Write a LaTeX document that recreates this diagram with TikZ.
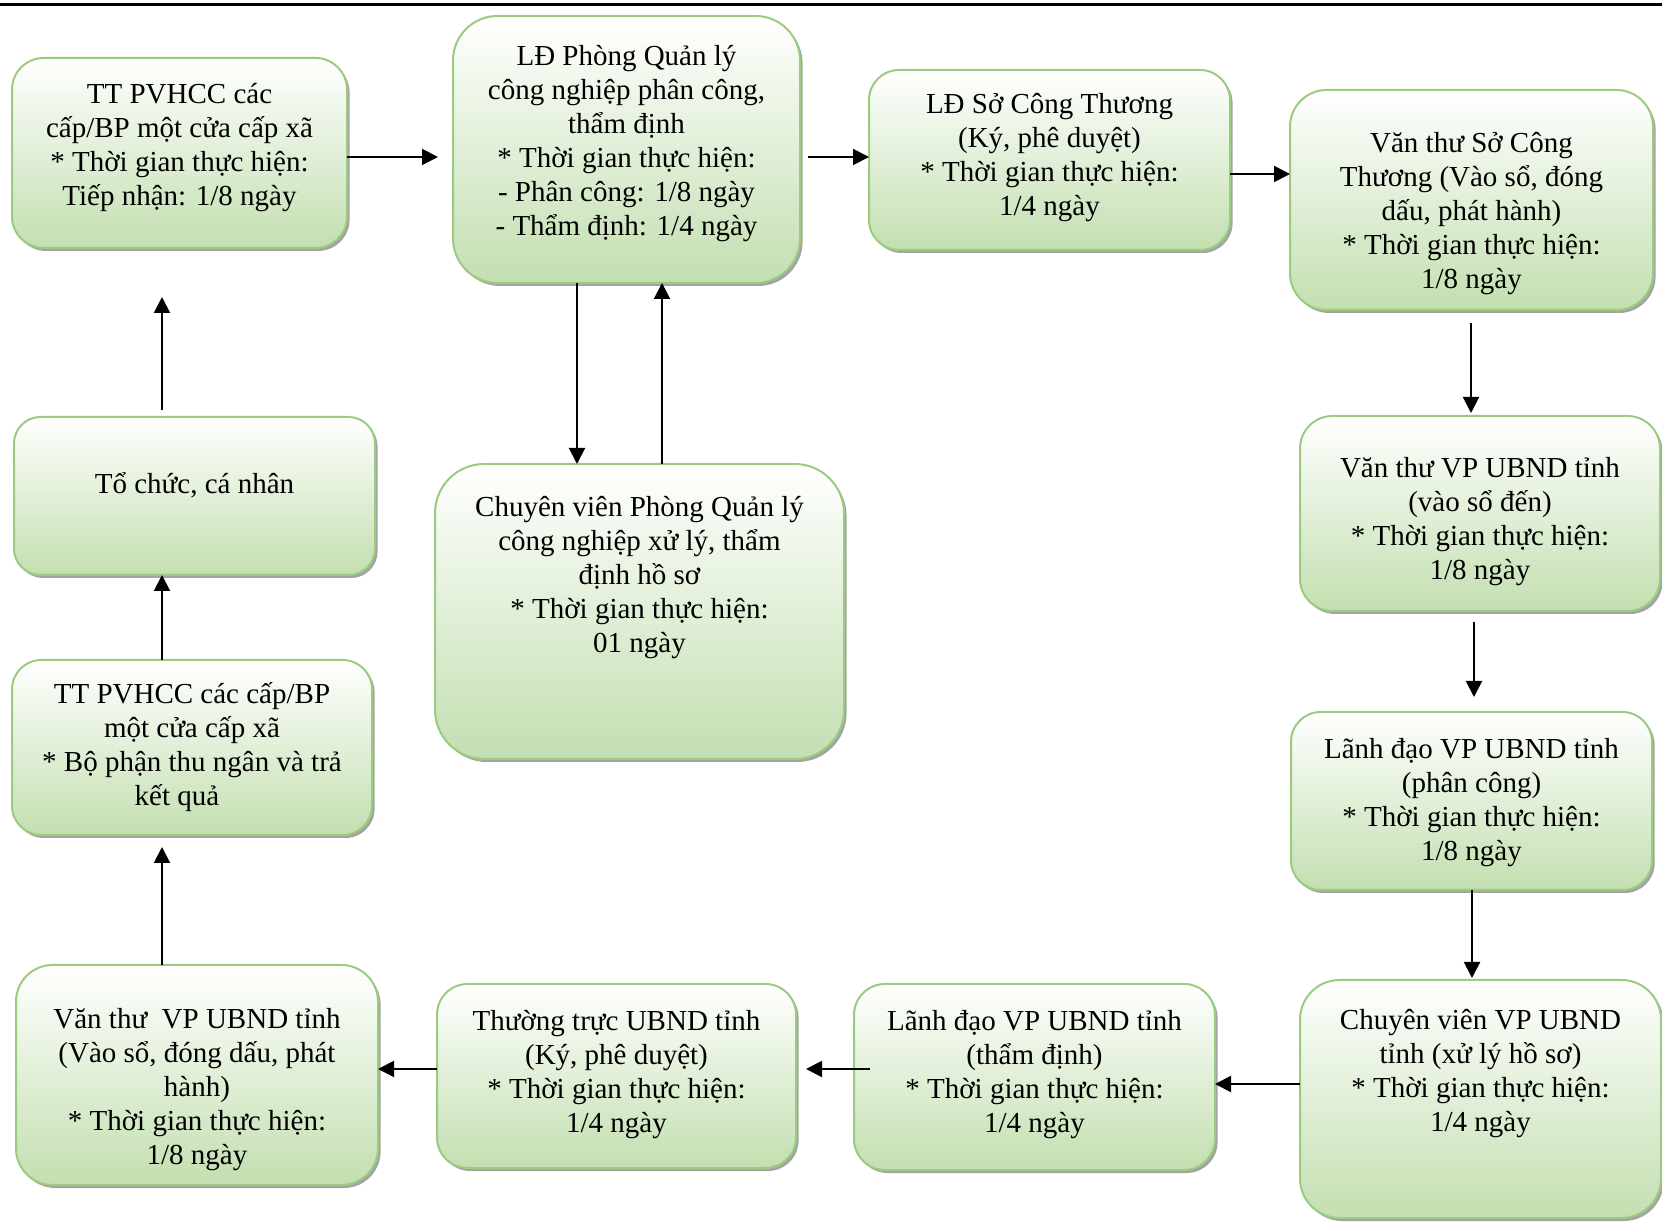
\documentclass[tikz,border=0pt]{standalone}
\usepackage{fontspec}
\setmainfont{Liberation Serif}
\usetikzlibrary{arrows.meta,shadows}
\definecolor{boxline}{RGB}{155,203,128}
\definecolor{boxfill}{RGB}{195,223,176}
\tikzset{
  box/.style={draw=boxline, line width=1pt, top color=white, bottom color=boxfill,
    inner sep=0pt, outer sep=0pt,
    drop shadow={shadow xshift=1.3pt, shadow yshift=-1.5pt, fill=black!45, opacity=0.8}},
  txt/.style={align=center, inner sep=0pt, font=\fontsize{14.5pt}{17pt}\selectfont, anchor=north},
  arr/.style={-{Triangle[length=8pt,width=8pt]}, line width=1pt},
}
\newcommand\bx[8]{%
  \node[box, rounded corners=#6, minimum width={(#4-#2)*0.5pt}, minimum height={(#5-#3)*0.5pt}] (#1) at ({(#2+#4)/2},{(#3+#5)/2}) {};
  \node[txt] (#1t) at ({(#2+#4)/2},{#3+#7-32}) {\rule{0pt}{16pt}#8};
}
\begin{document}
\begin{tikzpicture}[x=0.5pt,y=-0.5pt]
\useasboundingbox (0,0) rectangle (1662,1224);
\coordinate (tl) at (0,5);
\coordinate (tr) at (1662,5);
\draw[line width=1.5pt] (tl) -- (tr);

\bx{b1}{12}{58}{347}{248}{15.8pt}{45}{TT PVHCC các\\cấp/BP một cửa cấp xã\\* Thời gian thực hiện:\\Tiếp nhận: 1/8 ngày}
\bx{b2}{453}{16}{800}{283}{22.2pt}{49}{LĐ Phòng Quản lý\\công nghiệp phân công,\\thẩm định\\* Thời gian thực hiện:\\- Phân công: 1/8 ngày\\- Thẩm định: 1/4 ngày}
\bx{b3}{869}{70}{1230}{250}{15pt}{43}{LĐ Sở Công Thương\\(Ký, phê duyệt)\\* Thời gian thực hiện:\\1/4 ngày}
\bx{b4}{1290}{90}{1653}{310}{18.3pt}{62}{Văn thư Sở Công\\Thương (Vào sổ, đóng\\dấu, phát hành)\\* Thời gian thực hiện:\\1/8 ngày}
\bx{b5}{1300}{416}{1660}{611}{16.2pt}{61}{Văn thư VP UBND tỉnh\\(vào sổ đến)\\* Thời gian thực hiện:\\1/8 ngày}
\bx{b6}{1291}{712}{1652}{890}{14.8pt}{46}{Lãnh đạo VP UBND tỉnh\\(phân công)\\* Thời gian thực hiện:\\1/8 ngày}
\bx{b7}{1300}{980}{1661}{1218}{19.8pt}{49}{Chuyên viên VP UBND\\tỉnh (xử lý hồ sơ)\\* Thời gian thực hiện:\\1/4 ngày}
\bx{b8}{854}{984}{1215}{1170}{15.5pt}{46}{Lãnh đạo VP UBND tỉnh\\(thẩm định)\\* Thời gian thực hiện:\\1/4 ngày}
\bx{b9}{437}{984}{796}{1168}{15.3pt}{46}{Thường trực UBND tỉnh\\(Ký, phê duyệt)\\* Thời gian thực hiện:\\1/4 ngày}
\bx{b10}{16}{965}{378}{1185}{18.3pt}{63}{Văn thư\ \ VP UBND tỉnh\\(Vào sổ, đóng dấu, phát\\hành)\\* Thời gian thực hiện:\\1/8 ngày}
\bx{b11}{12}{660}{372}{835}{14.6pt}{43}{TT PVHCC các cấp/BP\\một cửa cấp xã\\* Bộ phận thu ngân và trả\\kết quả\hspace*{15pt}}
\bx{b12}{14}{417}{375}{575}{13.2pt}{76}{Tổ chức, cá nhân}
\bx{b13}{435}{464}{844}{759}{24.6pt}{52}{Chuyên viên Phòng Quản lý\\công nghiệp xử lý, thẩm\\định hồ sơ\\* Thời gian thực hiện:\\01 ngày}

\draw[arr, shorten >=7.5pt] (b1.east |- 0,157) -- (b2.west |- 0,157);
\draw[arr, shorten <=4pt] (b2.east |- 0,157) -- (b3.west |- 0,157);
\draw[arr] (b3.east |- 0,174) -- (b4.west |- 0,174);
\draw[arr, shorten <=6.5pt, shorten >=1.5pt] (b4.south -| 1471,0) -- (b5.north -| 1471,0);
\draw[arr, shorten <=5.5pt, shorten >=7.5pt] (b5.south -| 1474,0) -- (b6.north -| 1474,0);
\draw[arr, shorten >=1pt] (b6.south -| 1472,0) -- (b7.north -| 1472,0);
\draw[arr] (b7.west |- 0,1084) -- (b8.east |- 0,1084);
\draw[arr, shorten <=-8pt, shorten >=5pt] (b8.west |- 0,1069) -- (b9.east |- 0,1069);
\draw[arr] (b9.west |- 0,1069) -- (b10.east |- 0,1069);
\draw[arr, shorten >=6pt] (b10.north -| 162,0) -- (b11.south -| 162,0);
\draw[arr] (b11.north -| 162,0) -- (b12.south -| 162,0);
\draw[arr, shorten <=3.5pt, shorten >=24.5pt] (b12.north -| 162,0) -- (b1.south -| 162,0);
\draw[arr] (b2.south -| 577,0) -- (b13.north -| 577,0);
\draw[arr] (b13.north -| 662,0) -- (b2.south -| 662,0);
\end{tikzpicture}
\end{document}
